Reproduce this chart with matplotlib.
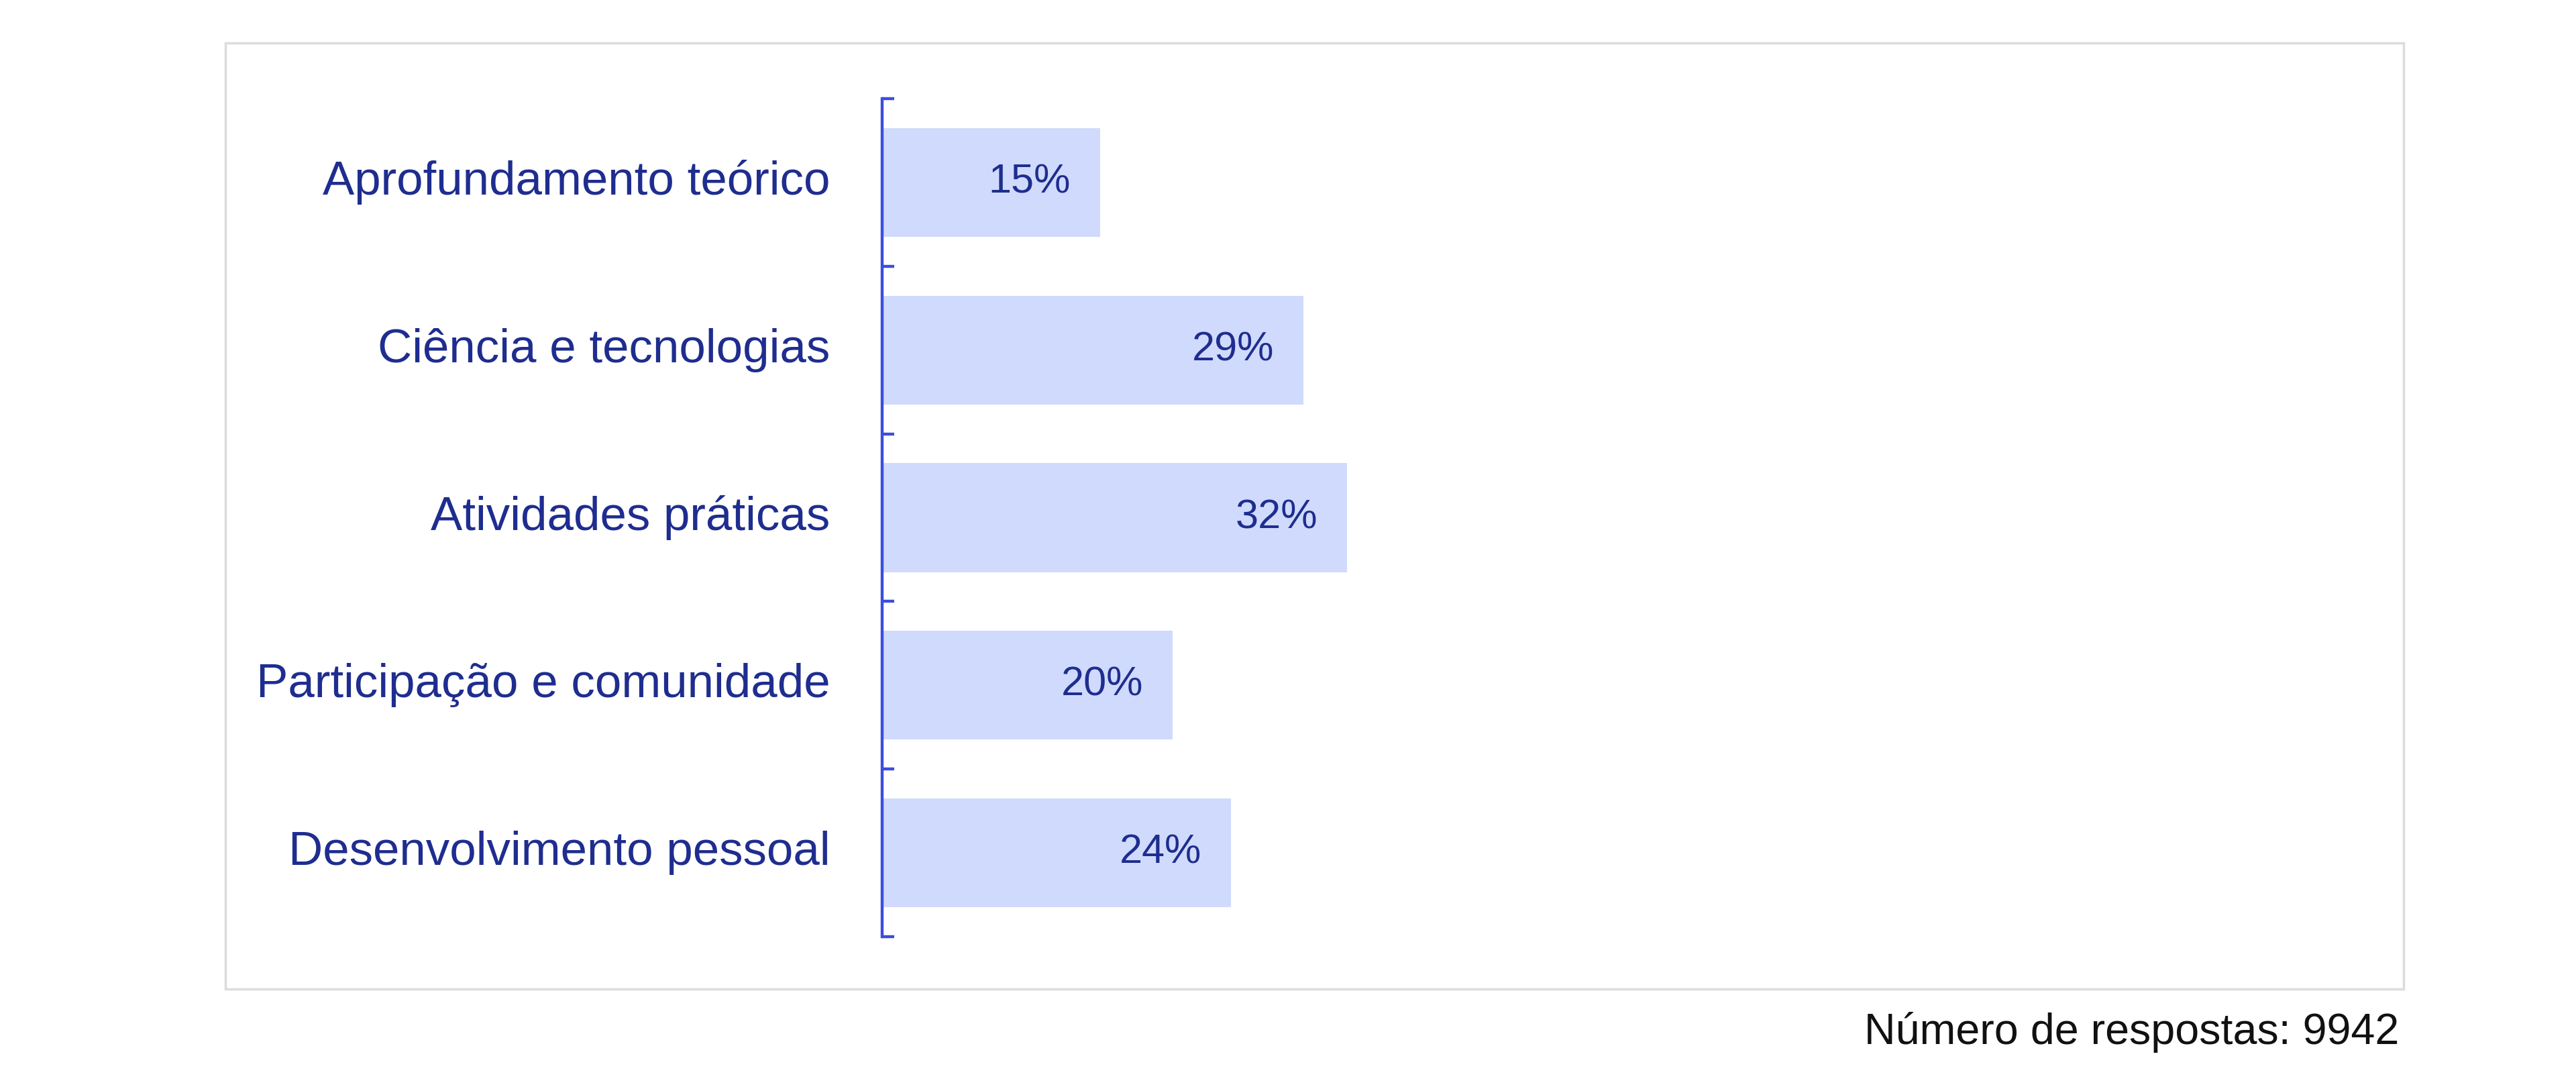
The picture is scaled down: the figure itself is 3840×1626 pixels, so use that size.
import matplotlib.pyplot as plt
from matplotlib.patches import Rectangle

categories = ["Aprofundamento teórico", "Ciência e tecnologias", "Atividades práticas",
              "Participação e comunidade", "Desenvolvimento pessoal"]
values = [15, 29, 32, 20, 24]
footer = "Número de respostas: 9942"

W, H = 3840, 1626
bar_color = "#d0dafc"
axis_color = "#3a4fdc"
text_color = "#1f2d8f"

plt.rcParams['font.family'] = ['Liberation Sans', 'DejaVu Sans']

fig = plt.figure(figsize=(W / 100, H / 100), dpi=100)

# outer frame, kept behind the axes
fig.patches.append(Rectangle((336 / W, 1 - 1474 / H), (3583 - 336) / W, (1474 - 64) / H,
                             transform=fig.transFigure, facecolor="none",
                             edgecolor="#dcdcdc", linewidth=2.5, zorder=-1))

ax_left, ax_right = 1315, 3482
ax_top, ax_bottom = 147, 1396
ax = fig.add_axes([ax_left / W, 1 - ax_bottom / H, (ax_right - ax_left) / W, (ax_bottom - ax_top) / H])
ax.patch.set_alpha(0)

y = range(len(categories))
bars = ax.barh(y, values, height=0.65, color=bar_color, zorder=2)
ax.set_xlim(0, 100)
ax.set_ylim(len(categories) - 0.5, -0.5)

for b, v in zip(bars, values):
    ax.annotate(f"{v}%", (b.get_width(), b.get_y() + b.get_height() / 2),
                xytext=(-44, 0), textcoords="offset pixels", ha="right", va="center",
                fontsize=44, color=text_color, zorder=3)

for s in ["top", "right", "bottom"]:
    ax.spines[s].set_visible(False)
ax.spines["left"].set_color(axis_color)
ax.spines["left"].set_linewidth(3.2)

ax.set_xticks([])
ax.set_yticks(list(y))
ax.set_yticklabels(categories, fontsize=51, color=text_color, va="center")
ax.tick_params(axis="y", which="major", length=0, pad=56)
ax.set_yticks([i - 0.5 for i in range(len(categories) + 1)], minor=True)
ax.tick_params(axis="y", which="minor", direction="in", length=13, width=3.2, color=axis_color)

fig.text(3576 / W, 1 - 1538 / H, footer, ha="right", va="center", fontsize=46.5, color="#111111")

fig.savefig("out.png", dpi=100)
